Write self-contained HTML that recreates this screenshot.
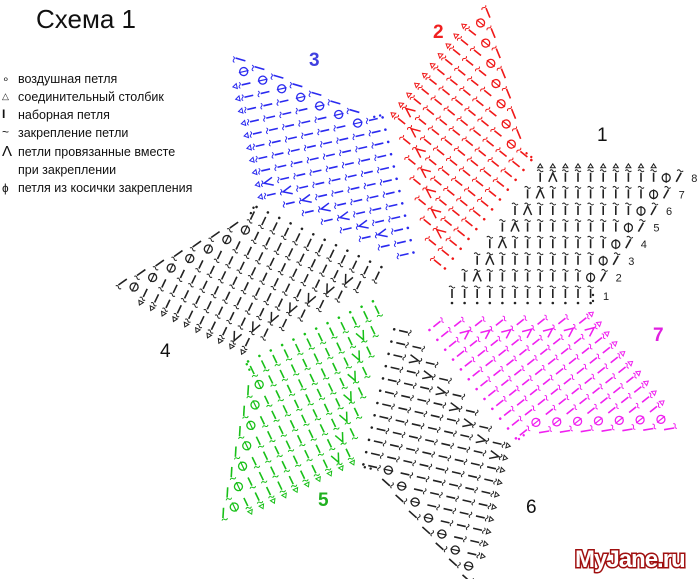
<!DOCTYPE html>
<html><head><meta charset="utf-8">
<style>
html,body{margin:0;padding:0;background:#fff;}
body{width:700px;height:579px;overflow:hidden;position:relative;font-family:"Liberation Sans",sans-serif;}
.t{position:absolute;left:36px;top:4px;font-size:26px;color:#111;}
.lg{position:absolute;left:18px;font-size:12.5px;color:#111;white-space:nowrap;}
.sy{position:absolute;left:2px;font-size:12px;color:#111;}
svg{position:absolute;left:0;top:0;}
</style></head><body>
<div class="t">Схема 1</div>
<div class="sy" style="top:72px">∘</div><div class="lg" style="top:72px">воздушная петля</div>
<div class="sy" style="top:91px;font-size:9px">△</div><div class="lg" style="top:90px">соединительный столбик</div>
<div class="sy" style="top:107px;font-weight:bold">I</div><div class="lg" style="top:108px">наборная петля</div>
<div class="sy" style="top:125px">~</div><div class="lg" style="top:126px">закрепление петли</div>
<div class="sy" style="top:143px;font-size:15px">Λ</div><div class="lg" style="top:145px">петли провязанные вместе</div>
<div class="lg" style="top:163px">при закреплении</div>
<div class="sy" style="top:181px">ɸ</div><div class="lg" style="top:181px">петля из косички закрепления</div>
<svg id="s" width="700" height="579" viewBox="0 0 700 579"></svg>
<script>
var NS="http://www.w3.org/2000/svg",svg=document.getElementById('s');
var colors=["#222","#f01818","#2a2af0","#222","#18c018","#222","#f020f0"];
function el(tag,attrs,p){var e=document.createElementNS(NS,tag);for(var k in attrs)e.setAttribute(k,attrs[k]);p.appendChild(e);return e;}
function stitch(g,x,y,c){el('line',{x1:x,y1:y,x2:x,y2:y-9,stroke:c,'stroke-width':1.6},g);
 el('path',{d:'M'+(x-3)+' '+(y-11)+'q1.5 -2 3 0t3 0',stroke:c,fill:'none','stroke-width':1},g);}
var D=8,a0=-23*Math.PI/180;
for(var s=0;s<7;s++){
 var c=colors[s];
 var a=(-23-51.43*s)*Math.PI/180;
 var tx=D*Math.cos(a)-D*Math.cos(a0), ty=D*Math.sin(a)-D*Math.sin(a0);
 var g=el('g',{transform:'translate('+tx.toFixed(1)+' '+ty.toFixed(1)+') rotate('+(-51.43*s)+' 420 290)'},svg);
 for(var j=0;j<12;j++){var x=452+j*12.6;stitch(g,x,298,c);el('circle',{cx:x,cy:303,r:1.3,fill:c},g);}
 el('circle',{cx:593,cy:295,r:1.2,fill:c},g);el('circle',{cx:593,cy:301,r:1.2,fill:c},g);
 for(var i=1;i<8;i++){
  var y=298-i*16.6,x0=452+i*12.6;
  for(var j=0;j<10;j++){var x=x0+j*12.6;
   if(j==1){el('path',{d:'M'+(x-4)+' '+y+'L'+x+' '+(y-9)+'L'+(x+4)+' '+y,stroke:c,fill:'none','stroke-width':1.5},g);
    el('path',{d:'M'+(x-3)+' '+(y-11)+'q1.5 -2 3 0t3 0',stroke:c,fill:'none','stroke-width':1},g);}
   else stitch(g,x,y,c);
   if(i==7)el('path',{d:'M'+(x-2.5)+' '+(y-14)+'L'+x+' '+(y-18)+'L'+(x+2.5)+' '+(y-14)+'Z',stroke:c,fill:'none','stroke-width':1},g);
  }
  var xp=x0+10*12.6;
  el('circle',{cx:xp,cy:y-4,r:4,stroke:c,fill:'none','stroke-width':1.3},g);
  el('line',{x1:xp,y1:y+1,x2:xp,y2:y-9,stroke:c,'stroke-width':1.2},g);
  el('line',{x1:xp+10,y1:y,x2:xp+15,y2:y-9,stroke:c,'stroke-width':1.6},g);
  el('path',{d:'M'+(xp+11)+' '+(y-11)+'q1.5 -2 3 0t3 0',stroke:c,fill:'none','stroke-width':1},g);
  if(s==0){var t=el('text',{x:xp+25,y:y,'font-size':11,fill:'#222','font-family':'Liberation Sans'},g);t.textContent=(i+1);}
 }
 if(s==0){var t=el('text',{x:603,y:300,'font-size':11,fill:'#222','font-family':'Liberation Sans'},g);t.textContent='1';}
}
</script>
<svg width="700" height="579" viewBox="0 0 700 579" style="pointer-events:none">
<g font-family="Liberation Sans" font-size="19">
<text x="597" y="141" fill="#111">1</text>
<text x="433" y="38" fill="#f02020" font-weight="bold">2</text>
<text x="309" y="66" fill="#4040e0" font-weight="bold">3</text>
<text x="160" y="357" fill="#111">4</text>
<text x="318" y="506" fill="#20b020" font-weight="bold">5</text>
<text x="526" y="513" fill="#111">6</text>
<text x="653" y="341" fill="#e020e0" font-weight="bold">7</text>
</g>
<text x="575" y="567" font-family="Liberation Sans" font-weight="bold" font-size="24" fill="#fff" stroke="#a01010" stroke-width="3" paint-order="stroke" letter-spacing="-1">MyJane.ru</text>
</svg>
</body></html>
